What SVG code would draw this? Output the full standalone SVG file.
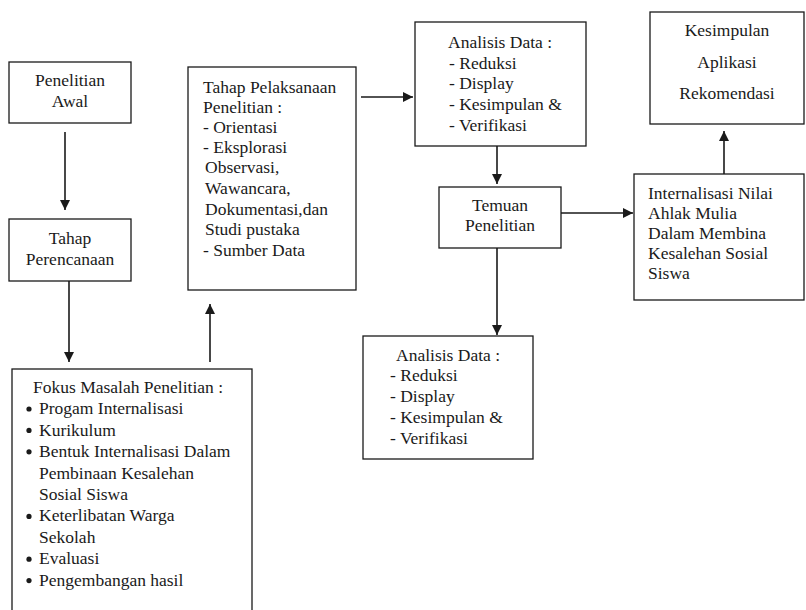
<svg xmlns="http://www.w3.org/2000/svg" width="806" height="610" viewBox="0 0 806 610">
<style>
.box{fill:#fff;stroke:#1a1a1a;stroke-width:1.3}
.t{font-family:'Liberation Serif','Times New Roman',Times,'DejaVu Serif',serif;font-size:17.5px;fill:#1a1a1a}
.c{text-anchor:middle}
.edge{stroke:#1a1a1a;stroke-width:1.6;fill:none;marker-end:url(#ah)}
</style>
<defs>
<marker id="ah" markerUnits="userSpaceOnUse" markerWidth="11" markerHeight="11" refX="10" refY="5" orient="auto">
<path d="M0,0 L10,5 L0,10 z" fill="#1a1a1a"/>
</marker>
</defs>
<rect width="806" height="610" fill="#fff"/>
<g id="connectors">
<line class="edge" x1="65" y1="132" x2="65" y2="210"/>
<line class="edge" x1="69" y1="281" x2="69" y2="362"/>
<line class="edge" x1="210" y1="362" x2="210" y2="304"/>
<line class="edge" x1="361" y1="97" x2="413" y2="97"/>
<line class="edge" x1="497" y1="146" x2="497" y2="184"/>
<line class="edge" x1="561" y1="213" x2="633" y2="213"/>
<line class="edge" x1="724" y1="174" x2="724" y2="131"/>
<line class="edge" x1="497" y1="248" x2="497" y2="335"/>
</g>
<g id="penelitian-awal">
<rect class="box" x="9" y="62" width="122" height="61"/>
<text class="t c" x="70" y="86">Penelitian</text>
<text class="t c" x="70" y="107">Awal</text>
</g>
<g id="tahap-perencanaan">
<rect class="box" x="9" y="219" width="122" height="62"/>
<text class="t c" x="70" y="244">Tahap</text>
<text class="t c" x="70" y="265">Perencanaan</text>
</g>
<g id="fokus-masalah">
<rect class="box" x="12" y="369" width="240" height="250"/>
<text class="t" x="33" y="393">Fokus Masalah Penelitian :</text>
<g fill="#1a1a1a">
<circle cx="29" cy="409" r="2.6"/>
<circle cx="29" cy="430.4" r="2.6"/>
<circle cx="29" cy="451.8" r="2.6"/>
<circle cx="29" cy="516.4" r="2.6"/>
<circle cx="29" cy="559.2" r="2.6"/>
<circle cx="29" cy="580.6" r="2.6"/>
</g>
<text class="t" x="39" y="414.4">Progam Internalisasi</text>
<text class="t" x="39" y="435.8">Kurikulum</text>
<text class="t" x="39" y="457.2">Bentuk Internalisasi Dalam</text>
<text class="t" x="39" y="478.6">Pembinaan Kesalehan</text>
<text class="t" x="39" y="500">Sosial Siswa</text>
<text class="t" x="39" y="521.4">Keterlibatan Warga</text>
<text class="t" x="39" y="542.8">Sekolah</text>
<text class="t" x="39" y="564.2">Evaluasi</text>
<text class="t" x="39" y="585.6">Pengembangan hasil</text>
</g>
<g id="tahap-pelaksanaan">
<rect class="box" x="188" y="67" width="168" height="223"/>
<text class="t" x="203" y="92.5">Tahap Pelaksanaan</text>
<text class="t" x="203" y="112.5">Penelitian :</text>
<text class="t" x="203" y="132.5">- Orientasi</text>
<text class="t" x="203" y="152.5">- Eksplorasi</text>
<text class="t" x="205" y="173">Observasi,</text>
<text class="t" x="205" y="193.5">Wawancara,</text>
<text class="t" x="205" y="214.5">Dokumentasi,dan</text>
<text class="t" x="205" y="235">Studi pustaka</text>
<text class="t" x="203" y="255.5">- Sumber Data</text>
</g>
<g id="analisis-data-1">
<rect class="box" x="415" y="22" width="171" height="124"/>
<text class="t" x="448" y="47.5">Analisis Data :</text>
<text class="t" x="449" y="68.5">- Reduksi</text>
<text class="t" x="449" y="89">- Display</text>
<text class="t" x="449" y="109.5">- Kesimpulan &amp;</text>
<text class="t" x="449" y="130.5">- Verifikasi</text>
</g>
<g id="temuan-penelitian">
<rect class="box" x="439" y="187" width="122" height="61"/>
<text class="t c" x="500" y="210.5">Temuan</text>
<text class="t c" x="500" y="230.5">Penelitian</text>
</g>
<g id="internalisasi">
<rect class="box" x="634" y="174" width="170" height="126"/>
<text class="t" x="648" y="199">Internalisasi Nilai</text>
<text class="t" x="648" y="219">Ahlak Mulia</text>
<text class="t" x="648" y="239">Dalam Membina</text>
<text class="t" x="648" y="259">Kesalehan Sosial</text>
<text class="t" x="648" y="279">Siswa</text>
</g>
<g id="kesimpulan">
<rect class="box" x="650" y="12" width="154" height="112"/>
<text class="t c" x="727" y="36">Kesimpulan</text>
<text class="t c" x="727" y="67.5">Aplikasi</text>
<text class="t c" x="727" y="99">Rekomendasi</text>
</g>
<g id="analisis-data-2">
<rect class="box" x="363" y="336" width="170" height="123"/>
<text class="t" x="396" y="360.5">Analisis Data :</text>
<text class="t" x="390" y="381">- Reduksi</text>
<text class="t" x="390" y="402">- Display</text>
<text class="t" x="390" y="422.5">- Kesimpulan &amp;</text>
<text class="t" x="390" y="443.5">- Verifikasi</text>
</g>
</svg>
